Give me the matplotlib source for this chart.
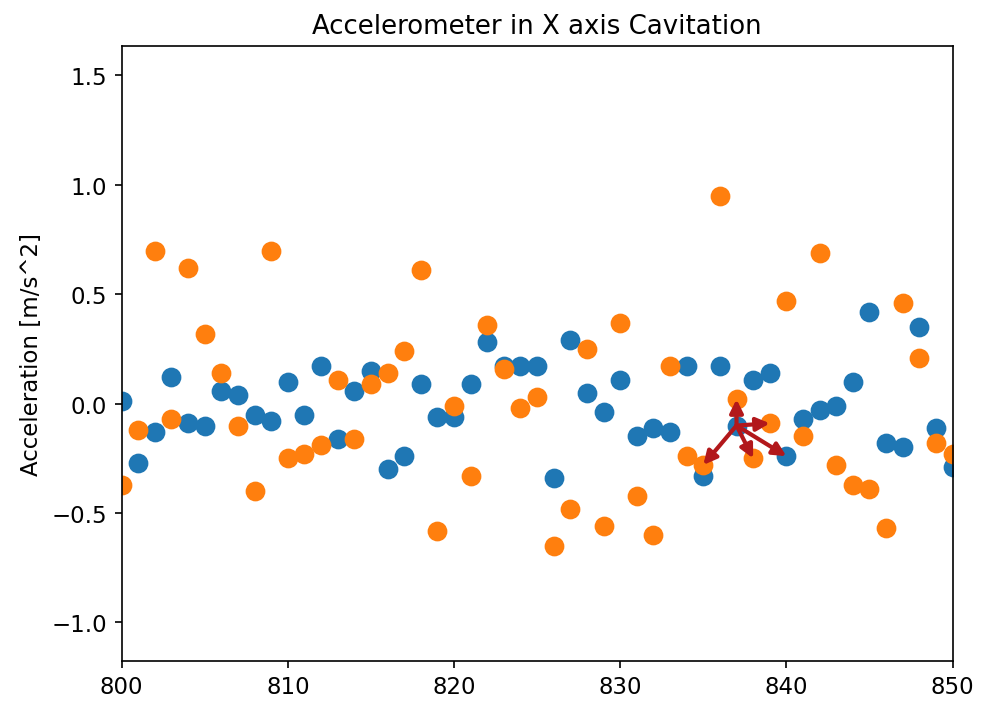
import matplotlib.pyplot as plt
import numpy as np

# sample index
t = np.arange(800, 851)

# accelerometer X, two series
acc_blue = [0.01, -0.27, -0.13, 0.12, -0.09, -0.10, 0.06, 0.04, -0.05, -0.08,
            0.10, -0.05, 0.17, -0.16, 0.06, 0.15, -0.30, -0.24, 0.09, -0.06,
            -0.06, 0.09, 0.28, 0.17, 0.17, 0.17, -0.34, 0.29, 0.05, -0.04,
            0.11, -0.15, -0.11, -0.13, 0.17, -0.33, 0.17, -0.10, 0.11, 0.14,
            -0.24, -0.07, -0.03, -0.01, 0.10, 0.42, -0.18, -0.20, 0.35, -0.11,
            -0.29]
acc_orange = [-0.37, -0.12, 0.70, -0.07, 0.62, 0.32, 0.14, -0.10, -0.40, 0.70,
              -0.25, -0.23, -0.19, 0.11, -0.16, 0.09, 0.14, 0.24, 0.61, -0.58,
              -0.01, -0.33, 0.36, 0.16, -0.02, 0.03, -0.65, -0.48, 0.25, -0.56,
              0.37, -0.42, -0.60, 0.17, -0.24, -0.28, 0.95, 0.02, -0.25, -0.09,
              0.47, -0.15, 0.69, -0.28, -0.37, -0.39, -0.57, 0.46, 0.21, -0.18,
              -0.23]

# neighbour arrows: from blue point at 837 to these (series, index)
arrow_src = 837
arrow_targets = [('orange', 835), ('orange', 837), ('orange', 838),
                 ('orange', 839), ('blue', 840)]


def main():
    plt.rcParams['font.size'] = 11
    fig = plt.figure(figsize=(6.54, 4.713), dpi=150)
    ax = fig.add_axes([0.124, 0.064, 0.847, 0.870])

    ax.scatter(t, acc_blue, color='tab:blue', s=72, zorder=2)
    ax.scatter(t, acc_orange, color='tab:orange', s=72, zorder=2)

    series = {'blue': acc_blue, 'orange': acc_orange}
    x0 = arrow_src
    y0 = acc_blue[arrow_src - t[0]]
    for name, xi in arrow_targets:
        yi = series[name][xi - t[0]]
        ax.annotate('', xy=(xi, yi), xytext=(x0, y0),
                    arrowprops=dict(arrowstyle='-|>', color='#b2181b', lw=2.0,
                                    mutation_scale=13, shrinkA=0, shrinkB=0),
                    zorder=3)

    ax.set_xlim(800, 850)
    ax.set_ylim(-1.175, 1.636)
    ax.set_ylabel('Acceleration [m/s^2]', fontsize=11)
    ax.set_title('Accelerometer in X axis Cavitation', fontsize=12.5)

    plt.savefig('out.png', dpi=150)


if __name__ == '__main__':
    main()
